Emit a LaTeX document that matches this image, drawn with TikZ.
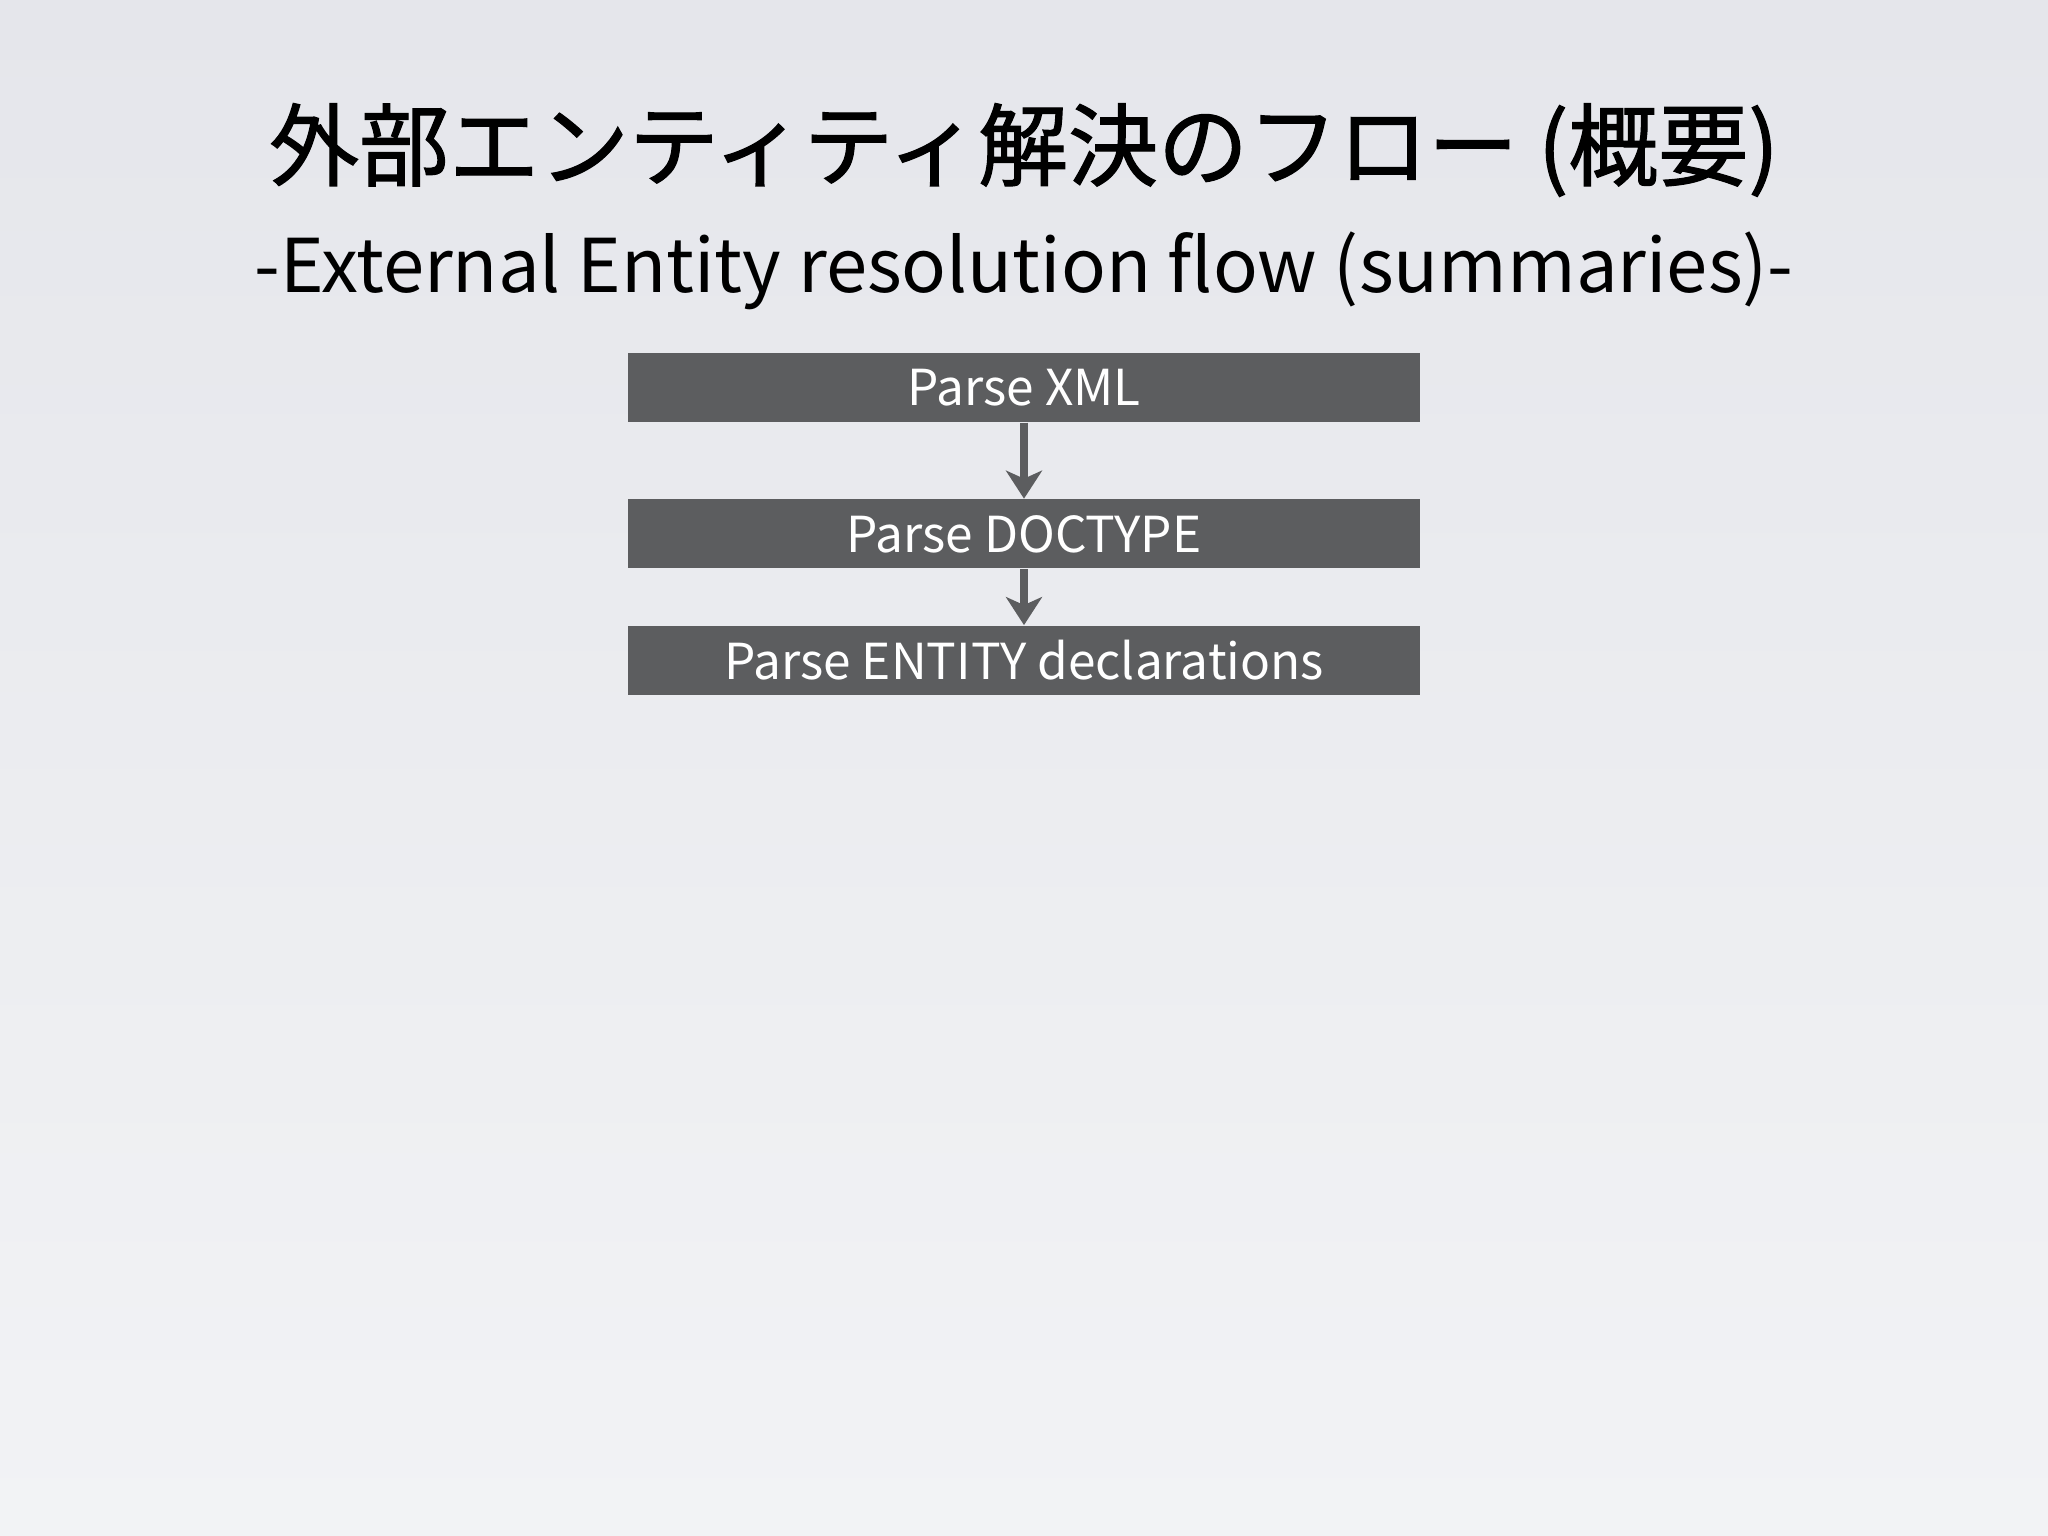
\documentclass[tikz,border=0pt]{standalone}
\usepackage{fontspec}
\setmainfont{Noto Sans CJK JP}
\newfontfamily\titlefont{Noto Sans CJK JP}[FakeBold=1.3]
\usepackage{xcolor}
\definecolor{boxgray}{RGB}{92,93,95}
\definecolor{bgtop}{RGB}{229,230,235}
\definecolor{bgbot}{RGB}{242,243,245}
\usetikzlibrary{arrows.meta, positioning}

\begin{document}
\begin{tikzpicture}[
    stepbox/.style={fill=boxgray, text=white, minimum width=7.92cm, minimum height=0.69cm,
        inner sep=0pt, font=\fontsize{14.1}{16}\selectfont},
    flow/.style={draw=boxgray, line width=2pt, -{Stealth[length=0.28cm, width=0.36cm, inset=0.08cm]}}
]
    % Background
    \shade[top color=bgtop, bottom color=bgbot] (0,0) rectangle (20.48,15.36);
    \useasboundingbox (0,0) rectangle (20.48,15.36);

    % Titles
    \node[anchor=base, font=\titlefont\fontsize{25.6}{30}\selectfont] (title) at (10.24,13.57)
        {外部エンティティ解決のフロー (概要)};
    \node[anchor=base, font=\fontsize{21.1}{25}\selectfont] (subtitle) at (10.24,12.43)
        {-External Entity resolution flow (summaries)-};

    % Boxes
    \node[stepbox] (xml) at (10.24,11.485) {Parse XML};
    \node[stepbox, below=0.76cm of xml] (doctype) {Parse DOCTYPE};
    \node[stepbox, below=0.56cm of doctype] (entity) {Parse ENTITY declarations};

    % Arrows
    \draw[flow] (xml) -- (doctype);
    \draw[flow] (doctype) -- (entity);
\end{tikzpicture}
\end{document}
